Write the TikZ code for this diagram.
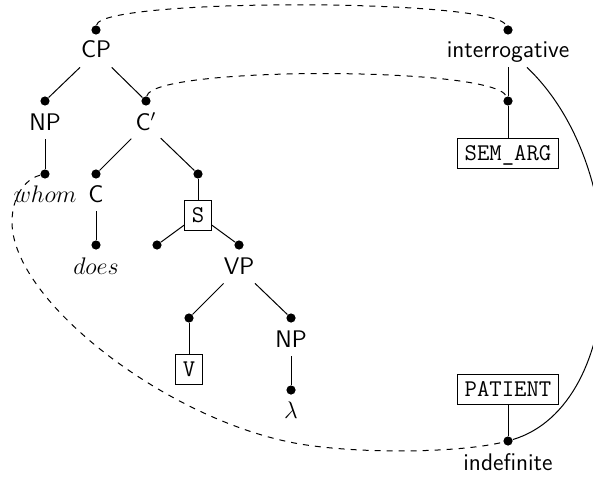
\documentclass[tikz,border=0pt]{standalone}
\usetikzlibrary{calc}
\begin{document}
\begin{tikzpicture}[x=0.5pt,y=-0.5pt,
  lbl/.style={font=\fontsize{12}{14}\selectfont\sffamily, anchor=base, inner sep=2pt, text height=8.5pt, text depth=2.5pt},
  dotn/.style={circle, fill=black, inner sep=0pt, minimum size=4.6pt},
  tbox/.style={draw, line width=0.5pt, font=\fontsize{12}{14}\selectfont\ttfamily, inner sep=3.6pt, text height=7.4pt, text depth=0.4pt},
  edge/.style={line width=0.5pt},
  link/.style={dashed, line width=0.5pt}]
\useasboundingbox (0,0) rectangle (593,476);
% tree
\node[dotn] (cpd) at (96,30) {};
\node[lbl] (cp) at (96,58) {CP};
\node[dotn] (npd) at (45,101) {};
\node[lbl] (np) at (45,130) {NP};
\node[dotn] (cbd) at (146,101) {};
\node[lbl] (cb) at (146,130) {C$'$};
\node[dotn] (whd) at (45,174) {};
\node[lbl] (wh) at (45,202) {$whom$};
\node[dotn] (cd) at (96,174) {};
\node[lbl] (c) at (96,202) {C};
\node[dotn] (sd) at (198,174) {};
\node[tbox] (s) at (198,215) {S};
\node[dotn] (dd) at (96,245) {};
\node[lbl] (does) at (96,274) {$does$};
\node[dotn] (ld) at (157,245) {};
\node[dotn] (vpd) at (239,245) {};
\node[lbl] (vp) at (239,274) {VP};
\node[dotn] (vd) at (189,318) {};
\node[tbox] (v) at (189,369) {V};
\node[dotn] (np2d) at (291,318) {};
\node[lbl] (np2) at (291,347) {NP};
\node[dotn] (lamd) at (291,390) {};
\node[lbl] (lam) at (291,418) {$\lambda$};
% right side
\node[dotn] (intd) at (508,30) {};
\node[lbl] (int) at (508,58) {interrogative};
\node[dotn] (semd) at (508,101) {};
\node[tbox] (sem) at (508,153) {SEM\_ARG};
\node[tbox] (pat) at (508,389) {PATIENT};
\node[dotn] (indd) at (508,441) {};
\node[lbl] (ind) at (508,470) {indefinite};
% edges
\draw[edge] (cp) -- (npd);
\draw[edge] (cp) -- (cbd);
\draw[edge] (np) -- (whd);
\draw[edge] (cb) -- (cd);
\draw[edge] (cb) -- (sd);
\draw[edge] (sd) -- (s);
\draw[edge] (c) -- (dd);
\draw[edge] (s) -- (ld);
\draw[edge] (s) -- (vpd);
\draw[edge] (vp) -- (vd);
\draw[edge] (vp) -- (np2d);
\draw[edge] (vd) -- (v);
\draw[edge] (np2) -- (lamd);
\draw[edge] (int.south) -- (semd);
\draw[edge] (semd) -- (sem);
\draw[edge] (pat) -- (indd);
% links
\draw[link] (cpd) .. controls (100,-2) and (495,-2) .. (intd);
\draw[link] (cbd) .. controls (152,66) and (495,66) .. (semd);
\draw[link] (whd) .. controls (25,179) and (12,197) .. (12,222)
  .. controls (12,302) and (170,422) .. (300,444)
  .. controls (360,454) and (458,453) .. (indd);
\draw[edge] ([xshift=9.5pt]int.south) .. controls (635,170) and (628,405) .. (indd);
\end{tikzpicture}
\end{document}
